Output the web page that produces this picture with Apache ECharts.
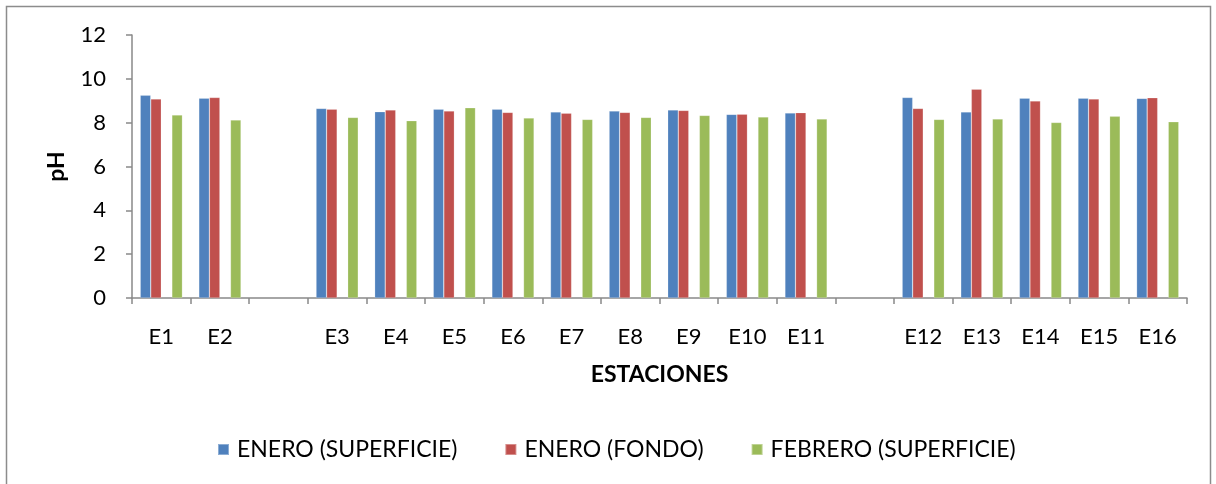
<!DOCTYPE html>
<html>
<head>
<meta charset="utf-8">
<script src="https://cdn.jsdelivr.net/npm/echarts@6/dist/echarts.min.js"></script>
<style>
  html, body { margin: 0; padding: 0; background: #fff; }
  #chart { width: 1216px; height: 484px; }
</style>
</head>
<body>
<div id="chart"></div>
<script>
// Stations along the x axis; empty strings are the gaps between station groups
const categories = ['E1', 'E2', '', 'E3', 'E4', 'E5', 'E6', 'E7', 'E8', 'E9', 'E10', 'E11', '', 'E12', 'E13', 'E14', 'E15', 'E16'];

// pH readings per station (null where a gap column sits)
const eneroSuperficie = [9.25, 9.12, null, 8.65, 8.50, 8.62, 8.62, 8.49, 8.53, 8.58, 8.38, 8.44, null, 9.15, 8.49, 9.12, 9.12, 9.11];
const eneroFondo      = [9.08, 9.15, null, 8.62, 8.58, 8.53, 8.47, 8.43, 8.47, 8.56, 8.39, 8.46, null, 8.65, 9.53, 8.99, 9.08, 9.14];
const febreroSuperficie = [8.35, 8.12, null, 8.24, 8.09, 8.68, 8.21, 8.15, 8.24, 8.33, 8.26, 8.17, null, 8.15, 8.17, 8.01, 8.29, 8.04];
// February bottom column has no readings; it only keeps its slot in each group
const febreroFondo = categories.map(() => null);

const seriesNames = ['ENERO (SUPERFICIE)', 'ENERO (FONDO)', 'FEBRERO (FONDO)', 'FEBRERO (SUPERFICIE)'];
const yTicks = { min: 0, max: 12, interval: 2 };

const axisGray = '#898989';
const font = 'Lato, "Open Sans", sans-serif';

const chart = echarts.init(document.getElementById('chart'), null, { renderer: 'canvas' });

function barSeries(name, data, color) {
  return {
    name: name,
    type: 'bar',
    data: data,
    barGap: '0%',
    barCategoryGap: '28%',
    itemStyle: { color: color, borderColor: 'rgba(255,255,255,0.35)', borderWidth: 0.6 },
    emphasis: { disabled: true }
  };
}

chart.setOption({
  animation: false,
  backgroundColor: '#ffffff',
  textStyle: { fontFamily: font },
  graphic: [{
    type: 'rect',
    shape: { x: 6.5, y: 6.5, width: 1204, height: 500 },
    style: { fill: 'none', stroke: '#8c8c8c', lineWidth: 1.5 },
    silent: true,
    z: -1
  }],
  grid: { left: 132, right: 29, top: 35, bottom: 186 },
  legend: {
    data: [seriesNames[0], seriesNames[1], seriesNames[3]],
    left: 212,
    top: 433,
    icon: 'rect',
    itemWidth: 11,
    itemHeight: 11,
    itemGap: 47,
    textStyle: { fontFamily: font, fontSize: 23, color: '#000', padding: [0, 0, 0, 3] },
    selectedMode: false
  },
  xAxis: {
    type: 'category',
    data: categories,
    name: 'ESTACIONES',
    nameLocation: 'middle',
    nameGap: 65,
    nameTextStyle: { fontFamily: font, fontSize: 23, fontWeight: 'bold', color: '#000' },
    axisLine: { lineStyle: { color: axisGray, width: 1.5 } },
    axisTick: { show: true, length: 6, lineStyle: { color: axisGray, width: 1.5 } },
    axisLabel: { interval: 0, margin: 28, fontFamily: font, fontSize: 22, color: '#000' },
    splitLine: { show: false }
  },
  yAxis: {
    type: 'value',
    min: yTicks.min,
    max: yTicks.max,
    interval: yTicks.interval,
    name: 'pH',
    nameLocation: 'middle',
    nameGap: 64,
    nameRotate: 90,
    nameTextStyle: { fontFamily: font, fontSize: 23, fontWeight: 'bold', color: '#000' },
    axisLine: { show: true, lineStyle: { color: axisGray, width: 1.5 } },
    axisTick: { show: true, inside: false, length: 6, lineStyle: { color: axisGray, width: 1.5 } },
    axisLabel: { margin: 26, fontFamily: font, fontSize: 22, color: '#000' },
    splitLine: { show: false }
  },
  series: [
    barSeries(seriesNames[0], eneroSuperficie, '#4F81BD'),
    barSeries(seriesNames[1], eneroFondo, '#C0504D'),
    barSeries(seriesNames[2], febreroFondo, '#8064A2'),
    barSeries(seriesNames[3], febreroSuperficie, '#9BBB59')
  ]
});
</script>
</body>
</html>
